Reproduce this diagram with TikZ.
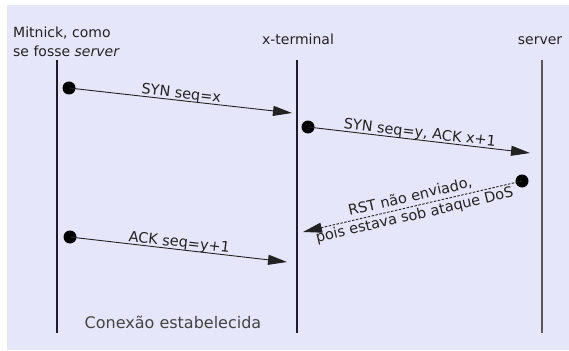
\documentclass[tikz,border=0pt]{standalone}
\usepackage{fontspec}
\setmainfont{DejaVu Sans}
\usetikzlibrary{arrows.meta}
\definecolor{bgc}{HTML}{E6E6FA}
\definecolor{ink}{HTML}{222222}
\definecolor{lifec}{HTML}{1E1E28}
\tikzset{
  life/.style={draw=lifec, line width=1.6pt},
  dot/.style={circle, fill=black, inner sep=0pt, minimum size=13pt},
  msg/.style={draw=ink, line width=0.9pt, -{Triangle[length=19pt,width=10pt]}},
  rst/.style={msg, dash pattern=on 2.5pt off 1.5pt},
  lbl/.style={font=\fontsize{14.5}{19}\selectfont, text=ink, inner sep=0pt},
  head/.style={font=\fontsize{14}{19}\selectfont, text=ink, inner sep=0pt},
}
\begin{document}
\begin{tikzpicture}[x=1pt,y=-1pt]
\useasboundingbox (0,0) rectangle (569,350);
\fill[bgc] (7,5) rectangle (569,350);

% headers
\node[head, anchor=north west, align=left] (hm) at (13,27) {Mitnick, como\\se fosse \textit{server}};
\node[head, anchor=base] (hx) at (298,45) {x-terminal};
\node[head, anchor=base] (hs) at (540,45) {server};

% lifelines
\coordinate (m1) at (57,60);  \coordinate (m2) at (57,333);
\coordinate (x1) at (297,60); \coordinate (x2) at (297,333);
\coordinate (s1) at (542,60); \coordinate (s2) at (542,333);
\draw[life] (m1) -- (m2);
\draw[life] (x1) -- (x2);
\draw[life, draw=black!65] (s1) -- (s2);

% messages
\node[dot] (d1) at (69,88) {};
\coordinate (t1) at (292,113);
\draw[msg] (d1.center) -- (t1) node[lbl, midway, sloped, anchor=base, yshift=2.5pt] {SYN seq=x};

\node[dot] (d2) at (308,127) {};
\coordinate (t2) at (530,153);
\draw[msg] (d2.center) -- (t2) node[lbl, midway, sloped, anchor=base, yshift=2.5pt] {SYN seq=y, ACK x+1};

\node[dot] (d3) at (522,181) {};
\coordinate (t3) at (303,232);
\draw[rst] (d3.center) -- (t3) node[lbl, midway, sloped, align=center] {RST não enviado,\\pois estava sob ataque DoS};

\node[dot] (d4) at (70,237) {};
\coordinate (t4) at (287,262);
\draw[msg] (d4.center) -- (t4) node[lbl, midway, sloped, anchor=base, yshift=2.5pt] {ACK seq=y+1};

\node[font=\fontsize{16}{19}\selectfont, text=ink!85, anchor=base, inner sep=0pt] (ce) at (173,328) {Conexão estabelecida};
\end{tikzpicture}
\end{document}
